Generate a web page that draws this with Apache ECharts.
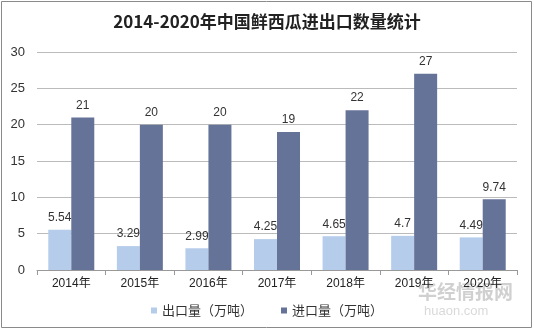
<!DOCTYPE html>
<html><head><meta charset="utf-8">
<script src="https://cdn.jsdelivr.net/npm/echarts@6/dist/echarts.min.js"></script>
<style>html,body{margin:0;padding:0;background:#fff}#c{width:534px;height:336px}</style>
</head><body><div id="c"></div>
<script>
var categories = ['2014年','2015年','2016年','2017年','2018年','2019年','2020年'];
var exportVals = [5.54, 3.29, 2.99, 4.25, 4.65, 4.7, 4.49];
var importVals = [21, 20, 20, 19, 22, 27, 9.74];
var seriesNames = ['出口量（万吨）','进口量（万吨）'];
var yTicks = {min:0, max:30, interval:5};

var chart = echarts.init(document.getElementById('c'));
var lbl = {show:true, position:'top', color:'#333', fontSize:12, fontFamily:'Liberation Sans, Arial', distance:6};
chart.setOption({
  animation:false,
  title:{text:'2014-2020年中国鲜西瓜进出口数量统计', left:'center', top:8,
    textStyle:{fontSize:17, fontWeight:'bold', color:'#222', fontFamily:'Noto Sans CJK SC'}},
  graphic:[
    {type:'rect', shape:{x:1.5,y:1.5,width:530,height:326}, style:{fill:'none', stroke:'#8a8a8a', lineWidth:1}},
    {type:'text', left:418, top:282, style:{text:'华经情报网', fill:'rgba(150,150,150,0.45)', font:'bold 19px Noto Sans CJK SC'}},
    {type:'text', left:424, top:305, style:{text:'huaon.com', fill:'rgba(170,170,170,0.45)', font:'13px Liberation Sans'}}
  ],
  grid:{left:37, right:17, top:52, bottom:66},
  legend:{bottom:14, left:'center', itemWidth:6, itemHeight:6, itemGap:28, icon:'rect',
    textStyle:{fontSize:13, color:'#333', fontFamily:'Noto Sans CJK SC'}},
  xAxis:{type:'category', data:categories,
    axisLine:{lineStyle:{color:'#999'}}, axisTick:{show:true, lineStyle:{color:'#999'}},
    axisLabel:{color:'#222', fontSize:12, fontFamily:'Liberation Sans, Noto Sans CJK SC', margin:8}},
  yAxis:{type:'value', min:yTicks.min, max:yTicks.max, interval:yTicks.interval,
    axisLine:{show:false}, axisTick:{show:false},
    axisLabel:{color:'#333', fontSize:13, fontFamily:'Liberation Sans', margin:12},
    splitLine:{lineStyle:{color:'#bbb'}}},
  series:[
    {name:seriesNames[0], type:'bar', data:exportVals, barWidth:23, barGap:'0%',
      itemStyle:{color:'#b5cdeb'}, label:lbl},
    {name:seriesNames[1], type:'bar', data:importVals, barWidth:23,
      itemStyle:{color:'#667399'}, label:lbl}
  ]
});
</script></body></html>
